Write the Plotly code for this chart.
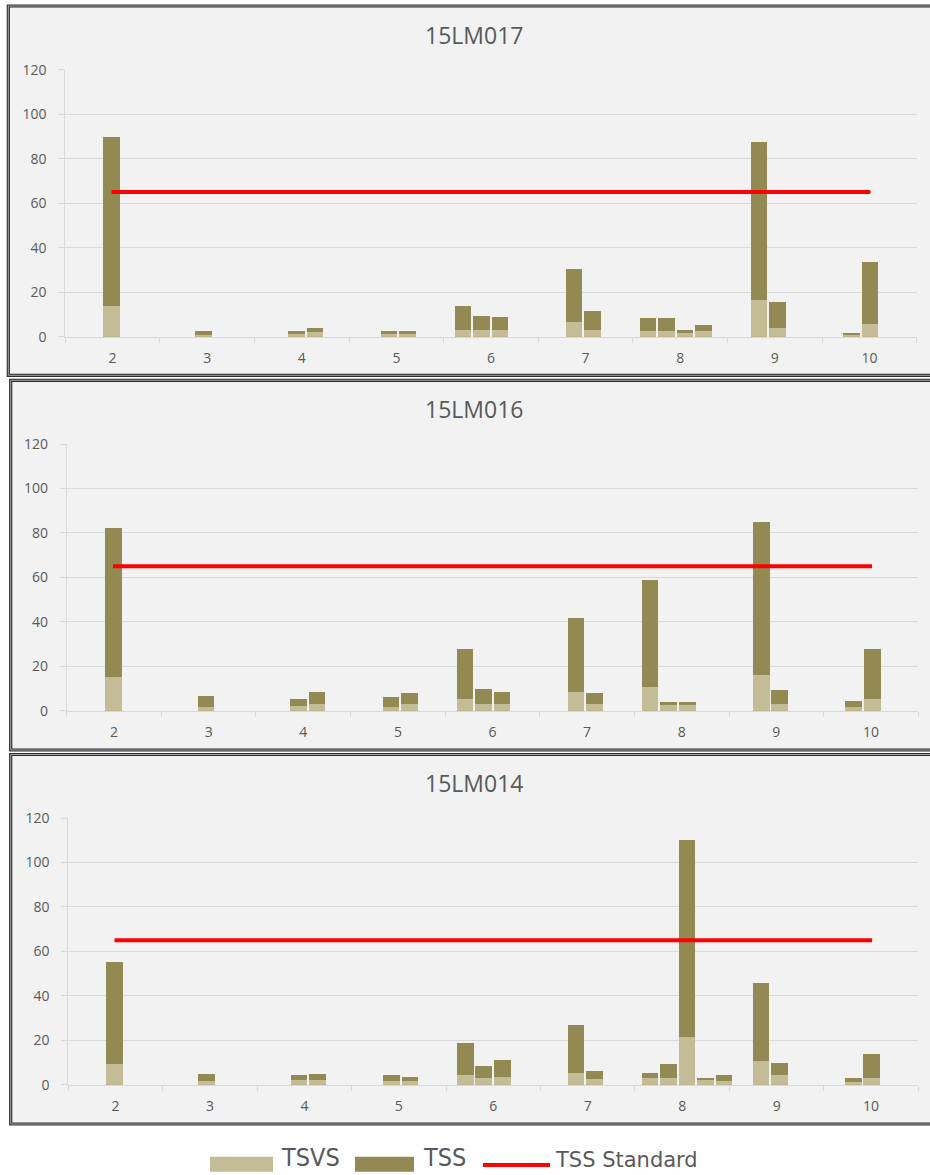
import plotly.graph_objects as go

# ---------------- data ----------------
months = [2, 3, 4, 5, 6, 7, 8, 9, 10]
month_labels = [str(m) for m in months]
n_slots = 46  # sampling slots across the whole season (Feb-Oct)

sites = ["15LM017", "15LM016", "15LM014"]

slots_017 = [2, 7, 12, 13, 17, 18, 21, 22, 23, 27, 28, 31, 32, 33, 34, 37, 38, 42, 43]
tss_017 = [90, 2.5, 2.9, 4, 2.9, 2.9, 13.8, 9.3, 8.9, 30.7, 11.7, 8.7, 8.7, 3.3, 5.3, 87.6, 15.7, 2, 33.6]
tsvs_017 = [14, 1, 1.5, 2.2, 1.5, 1.5, 3, 3, 3, 6.6, 3.3, 2.6, 2.6, 2, 2.6, 16.5, 4, 1, 6]

slots_016 = [2, 7, 12, 13, 17, 18, 21, 22, 23, 27, 28, 31, 32, 33, 37, 38, 42, 43]
tss_016 = [82, 6.8, 5.3, 8.6, 6.3, 7.8, 27.9, 9.8, 8.6, 41.9, 7.8, 59, 4.1, 4.1, 84.8, 9.3, 4.4, 27.9]
tsvs_016 = [15, 1.8, 2.1, 3, 1.7, 2.9, 5.4, 3, 3, 8.6, 2.9, 10.8, 2.7, 2.7, 16, 3, 1.7, 5.1]

slots_014 = [2, 7, 12, 13, 17, 18, 21, 22, 23, 27, 28, 31, 32, 33, 34, 35, 37, 38, 42, 43]
tss_014 = [55, 5, 4.5, 5, 4.2, 3.5, 18.6, 8.6, 11, 26.9, 6.2, 5.4, 9.5, 110, 3.2, 4.2, 45.8, 9.9, 3.2, 13.8]
tsvs_014 = [9.5, 1.7, 2, 2, 1.8, 1.8, 4.4, 2.9, 3.6, 5.4, 2.5, 2.9, 2.9, 21.6, 2.1, 1.7, 10.8, 4.4, 1, 3.2]

tss_standard = 65
y_ticks = [0, 20, 40, 60, 80, 100, 120]

# ---------------- style ----------------
W, H = 930, 1175
C_TSS = "#938953"
C_TSVS = "#c4bc96"
C_STD = "#ff0000"
C_TXT = "#595959"
C_GRID = "#d9d9d9"
TICK_FONT = dict(family="Open Sans, sans-serif", size=14, color=C_TXT)

# pixel geometry of each panel: (box left, box top, box bottom, plot left, plot right, plot top, plot bottom, title y)
panels = [
    (8.3, 6, 375.3, 65.3, 916.7, 69.7, 336.7, 35),
    (10.7, 380.3, 750, 66.7, 918.3, 444, 710.7, 409),
    (10.7, 754.5, 1124, 68.3, 918.3, 818, 1084.7, 783),
]
data = [
    (slots_017, tss_017, tsvs_017),
    (slots_016, tss_016, tsvs_016),
    (slots_014, tss_014, tsvs_014),
]

x0, x1 = months[0] - 0.5, months[-1] + 0.5
slot_w = (x1 - x0) / n_slots


def slot_to_x(s):
    return x0 + (s + 0.5) * slot_w


fig = go.Figure()
shapes = []
annotations = []

for i, ((bl, bt, bb, pl, pr, pt, pb, ty), (slots, tss, tsvs), name) in enumerate(zip(panels, data, sites)):
    ax = "" if i == 0 else str(i + 1)
    xs = [slot_to_x(s) for s in slots]
    fig.add_trace(go.Bar(x=xs, y=tss, width=slot_w * 0.9, marker_color=C_TSS,
                         marker_line_width=0, name="TSS", showlegend=False,
                         xaxis="x" + ax, yaxis="y" + ax))
    fig.add_trace(go.Bar(x=xs, y=tsvs, width=slot_w * 0.9, marker_color=C_TSVS,
                         marker_line_width=0, name="TSVS", showlegend=False,
                         xaxis="x" + ax, yaxis="y" + ax))
    fig.add_trace(go.Scatter(x=[xs[0], xs[-1]], y=[tss_standard, tss_standard], mode="lines",
                             line=dict(color=C_STD, width=4), name="TSS Standard",
                             showlegend=False, xaxis="x" + ax, yaxis="y" + ax))

    fig.update_layout(**{
        "xaxis" + ax: dict(
            domain=[pl / W, pr / W], range=[x0, x1], anchor="y" + ax,
            tickmode="array", tickvals=months, ticktext=month_labels, ticks="",
            tickfont=TICK_FONT, showgrid=False, zeroline=False,
            showline=True, linecolor=C_GRID, linewidth=1,
            minor=dict(tickmode="array", tickvals=[m - 0.5 for m in months] + [x1],
                       ticks="outside", ticklen=5, tickcolor=C_GRID, showgrid=False),
            ticklabelstandoff=8, fixedrange=True, automargin=False,
        ),
        "yaxis" + ax: dict(
            domain=[1 - pb / H, 1 - pt / H], range=[0, 120], anchor="x" + ax,
            tickmode="array", tickvals=y_ticks, ticks="outside", ticklen=6,
            tickcolor=C_GRID, tickfont=TICK_FONT, gridcolor=C_GRID, gridwidth=1,
            showline=True, linecolor=C_GRID, zeroline=False,
            ticklabelstandoff=9, fixedrange=True, automargin=False,
        ),
    })

    # panel background and its (left/top/bottom) double border
    fx0, fx1, fy0, fy1 = bl / W, 1.02, 1 - bb / H, 1 - bt / H
    shapes.append(dict(type="rect", xref="paper", yref="paper", x0=fx0, x1=fx1, y0=fy0, y1=fy1,
                       line_width=0, fillcolor="#f2f2f2", layer="below"))
    border = f"M {fx1},{fy1} L {fx0},{fy1} L {fx0},{fy0} L {fx1},{fy0}"
    shapes.append(dict(type="path", xref="paper", yref="paper", path=border,
                       line=dict(color="#2e2e2e", width=3.2), layer="above"))
    shapes.append(dict(type="path", xref="paper", yref="paper", path=border,
                       line=dict(color="#a6a6a6", width=1), layer="above"))
    annotations.append(dict(text=name, xref="paper", yref="paper", x=474 / W, y=1 - ty / H,
                            xanchor="center", yanchor="middle", showarrow=False,
                            font=dict(family="Open Sans, sans-serif", size=23, color=C_TXT)))

# ---------------- legend (drawn manually to match swatch sizes) ----------------
leg_y0, leg_y1 = 1156.7, 1171.7
shapes.append(dict(type="rect", xref="paper", yref="paper", x0=210 / W, x1=273 / W,
                   y0=1 - leg_y1 / H, y1=1 - leg_y0 / H, fillcolor=C_TSVS, line_width=0))
shapes.append(dict(type="rect", xref="paper", yref="paper", x0=355 / W, x1=414 / W,
                   y0=1 - leg_y1 / H, y1=1 - leg_y0 / H, fillcolor=C_TSS, line_width=0))
shapes.append(dict(type="line", xref="paper", yref="paper", x0=483 / W, x1=550 / W,
                   y0=1 - 1165 / H, y1=1 - 1165 / H, line=dict(color=C_STD, width=4)))
narrow = dict(family="Liberation Sans Narrow, Arial Narrow, DejaVu Sans Condensed, sans-serif",
              size=25, color=C_TXT)
annotations.append(dict(text="TSVS", xref="paper", yref="paper", x=279 / W, y=1 - 1174 / H,
                        xanchor="left", yanchor="bottom", showarrow=False, font=narrow))
annotations.append(dict(text="TSS", xref="paper", yref="paper", x=421 / W, y=1 - 1174 / H,
                        xanchor="left", yanchor="bottom", showarrow=False, font=narrow))
annotations.append(dict(text="TSS Standard", xref="paper", yref="paper", x=553 / W, y=1 - 1174 / H,
                        xanchor="left", yanchor="bottom", showarrow=False,
                        font=dict(family="DejaVu Sans, sans-serif", size=21, color=C_TXT)))

fig.update_layout(
    template="none",
    width=W, height=H, autosize=False,
    margin=dict(l=0, r=0, t=0, b=0, pad=0, autoexpand=False),
    paper_bgcolor="white", plot_bgcolor="rgba(0,0,0,0)",
    barmode="overlay", bargap=0, showlegend=False,
    shapes=shapes, annotations=annotations,
)

fig.write_html("out.html", config={"displayModeBar": False},
               post_script="document.body.style.margin='0px';")
